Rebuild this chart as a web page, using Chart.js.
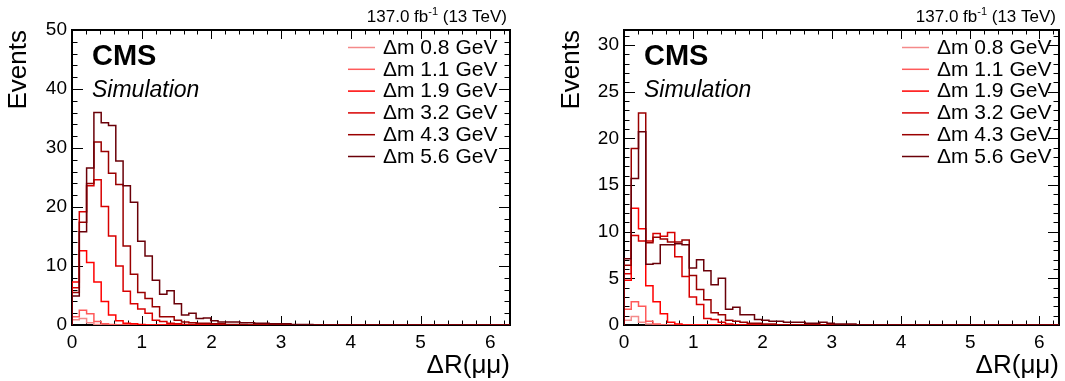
<!DOCTYPE html>
<html>
<head>
<meta charset="utf-8">
<title>Delta R of the muon pair</title>
<script src="https://cdn.jsdelivr.net/npm/chart.js@4.4.1/dist/chart.umd.min.js"></script>
<style>
  html, body { margin: 0; padding: 0; background: #fff; }
  #wrap { position: relative; width: 1065px; height: 381px; overflow: hidden; }
  .pad { position: absolute; top: 0; height: 381px; }
  #padL { left: 0; width: 532px; }
  #padR { left: 532px; width: 533px; }
</style>
</head>
<body>
<div id="wrap">
  <div class="pad" id="padL"><canvas id="chartL" width="532" height="381"></canvas></div>
  <div class="pad" id="padR"><canvas id="chartR" width="533" height="381"></canvas></div>
</div>
<script>
// 60 bins of dR between 0 and 2*pi
const NBINS = 60;
const DR_MAX = 2 * Math.PI;

const massLabels = ['\u0394m 0.8 GeV', '\u0394m 1.1 GeV', '\u0394m 1.9 GeV', '\u0394m 3.2 GeV', '\u0394m 4.3 GeV', '\u0394m 5.6 GeV'];
const massColors = ['#f48a8a', '#ff5a5a', '#ff0000', '#d80000', '#9a0000', '#6a0008'];

// left pad
const dm08Left = [0.9, 1.1, 0.4, 0.1, 0, 0, 0, 0, 0, 0,
  0, 0, 0, 0, 0, 0, 0, 0, 0, 0, 0, 0, 0, 0, 0, 0, 0, 0, 0, 0,
  0, 0, 0, 0, 0, 0, 0, 0, 0, 0, 0, 0, 0, 0, 0, 0, 0, 0, 0, 0, 0, 0, 0, 0, 0, 0, 0, 0, 0, 0];
const dm11Left = [1.4, 2.5, 1.9, 0.6, 0.2, 0.1, 0, 0, 0, 0,
  0, 0, 0, 0, 0, 0, 0, 0, 0, 0, 0, 0, 0, 0, 0, 0, 0, 0, 0, 0,
  0, 0, 0, 0, 0, 0, 0, 0, 0, 0, 0, 0, 0, 0, 0, 0, 0, 0, 0, 0, 0, 0, 0, 0, 0, 0, 0, 0, 0, 0];
const dm19Left = [7.3, 12.6, 10.6, 7.3, 4.0, 1.7, 0.7, 0.3, 0.2, 0.1,
  0, 0, 0, 0, 0, 0, 0, 0, 0, 0, 0, 0, 0, 0, 0, 0, 0, 0, 0, 0,
  0, 0, 0, 0, 0, 0, 0, 0, 0, 0, 0, 0, 0, 0, 0, 0, 0, 0, 0, 0, 0, 0, 0, 0, 0, 0, 0, 0, 0, 0];
const dm32Left = [6.3, 19.2, 23.6, 24.6, 20.1, 15.1, 10.0, 5.7, 3.6, 2.7,
  2.0, 0.8, 0.6, 0.3, 0.2, 0.1, 0.1, 0, 0, 0, 0, 0, 0, 0, 0, 0, 0, 0, 0, 0,
  0, 0, 0, 0, 0, 0, 0, 0, 0, 0, 0, 0, 0, 0, 0, 0, 0, 0, 0, 0, 0, 0, 0, 0, 0, 0, 0, 0, 0, 0];
const dm43Left = [5.5, 17.4, 24.0, 31.0, 29.4, 25.7, 23.8, 13.4, 8.6, 5.5,
  4.5, 3.1, 1.4, 1.4, 0.8, 0.5, 0.4, 0.3, 0.3, 0.2, 0.2, 0.1, 0.1, 0.1, 0, 0, 0, 0, 0, 0,
  0, 0, 0, 0, 0, 0, 0, 0, 0, 0, 0, 0, 0, 0, 0, 0, 0, 0, 0, 0, 0, 0, 0, 0, 0, 0, 0, 0, 0, 0];
const dm56Left = [4.9, 15.8, 26.6, 36.0, 34.3, 33.8, 27.8, 23.6, 20.8, 14.2,
  11.7, 7.6, 5.2, 5.8, 3.6, 1.7, 2.0, 1.1, 1.2, 0.7, 0.5, 0.5, 0.5, 0.4, 0.4, 0.3, 0.3, 0.2, 0.2, 0.2,
  0.1, 0.1, 0.1, 0, 0, 0, 0, 0, 0, 0, 0, 0, 0, 0, 0, 0, 0, 0, 0, 0, 0, 0, 0, 0, 0, 0, 0, 0, 0, 0];

// right pad
const dm08Right = [0.5, 0.9, 0.3, 0.1, 0, 0, 0, 0, 0, 0,
  0, 0, 0, 0, 0, 0, 0, 0, 0, 0, 0, 0, 0, 0, 0, 0, 0, 0, 0, 0,
  0, 0, 0, 0, 0, 0, 0, 0, 0, 0, 0, 0, 0, 0, 0, 0, 0, 0, 0, 0, 0, 0, 0, 0, 0, 0, 0, 0, 0, 0];
const dm11Right = [1.7, 2.5, 2.0, 0.4, 0.1, 0, 0, 0, 0, 0,
  0, 0, 0, 0, 0, 0, 0, 0, 0, 0, 0, 0, 0, 0, 0, 0, 0, 0, 0, 0,
  0, 0, 0, 0, 0, 0, 0, 0, 0, 0, 0, 0, 0, 0, 0, 0, 0, 0, 0, 0, 0, 0, 0, 0, 0, 0, 0, 0, 0, 0];
const dm19Right = [4.8, 12.5, 10.3, 4.2, 2.5, 1.2, 0.3, 0.1, 0, 0,
  0, 0, 0, 0, 0, 0, 0, 0, 0, 0, 0, 0, 0, 0, 0, 0, 0, 0, 0, 0,
  0, 0, 0, 0, 0, 0, 0, 0, 0, 0, 0, 0, 0, 0, 0, 0, 0, 0, 0, 0, 0, 0, 0, 0, 0, 0, 0, 0, 0, 0];
const dm32Right = [5.5, 9.6, 9.0, 9.0, 9.8, 9.5, 9.9, 7.3, 5.2, 3.0,
  2.2, 0.7, 0.6, 0.3, 0.1, 0, 0, 0, 0, 0, 0, 0, 0, 0, 0, 0, 0, 0, 0, 0,
  0, 0, 0, 0, 0, 0, 0, 0, 0, 0, 0, 0, 0, 0, 0, 0, 0, 0, 0, 0, 0, 0, 0, 0, 0, 0, 0, 0, 0, 0];
const dm43Right = [6.4, 18.9, 22.7, 8.8, 9.4, 9.2, 8.9, 8.9, 9.1, 5.3,
  3.8, 2.7, 1.3, 1.1, 0.5, 0.4, 0.3, 0.2, 0.2, 0.1, 0.1, 0, 0, 0, 0, 0, 0, 0, 0, 0,
  0, 0, 0, 0, 0, 0, 0, 0, 0, 0, 0, 0, 0, 0, 0, 0, 0, 0, 0, 0, 0, 0, 0, 0, 0, 0, 0, 0, 0, 0];
const dm56Right = [7.1, 15.7, 20.7, 6.5, 6.6, 8.6, 8.6, 8.7, 8.6, 6.1,
  7.0, 5.8, 4.3, 5.0, 1.7, 1.9, 1.1, 1.1, 0.6, 0.5, 0.4, 0.4, 0.3, 0.3, 0.3, 0.2, 0.2, 0.3, 0.2, 0.1,
  0.1, 0.1, 0, 0, 0, 0, 0, 0, 0, 0, 0, 0, 0, 0, 0, 0, 0, 0, 0, 0, 0, 0, 0, 0, 0, 0, 0, 0, 0, 0];

const FONT = '"Liberation Sans", Arial, Helvetica, sans-serif';

// turn bin contents into points for a stepped line (bin left edges + closing edge)
function histPoints(counts) {
  const w = DR_MAX / NBINS;
  const pts = [{x: 0, y: 0}];
  counts.forEach((c, i) => pts.push({x: i * w, y: c}));
  pts.push({x: NBINS * w, y: counts[counts.length - 1]});
  return pts;
}

// frame, inward ticks, CMS labels and legend
const rootStyle = {
  id: 'rootStyle',
  beforeDatasetsDraw(chart, args, o) {
    const {ctx, chartArea: a, scales: {x, y}} = chart;
    ctx.save();
    ctx.strokeStyle = '#000';
    ctx.lineWidth = 1;
    ctx.beginPath();
    for (let i = 0; i * 0.2 <= x.max + 1e-6; i++) {
      const px = Math.round(x.getPixelForValue(i * 0.2)) + 0.5;
      const len = i % 5 === 0 ? 9 : 4.5;
      ctx.moveTo(px, a.bottom); ctx.lineTo(px, a.bottom - len);
      ctx.moveTo(px, a.top); ctx.lineTo(px, a.top + len);
    }
    for (let i = 0; i * o.yMinor <= y.max + 1e-6; i++) {
      const v = i * o.yMinor;
      const py = Math.round(y.getPixelForValue(v)) + 0.5;
      const len = (Math.abs(v / o.yMajor - Math.round(v / o.yMajor)) < 1e-6) ? 11 : 5.5;
      ctx.moveTo(a.left, py); ctx.lineTo(a.left + len, py);
      ctx.moveTo(a.right, py); ctx.lineTo(a.right - len, py);
    }
    ctx.stroke();
    ctx.lineWidth = 2;
    ctx.strokeRect(a.left, a.top, a.right - a.left, a.bottom - a.top);
    ctx.restore();
  },
  afterDraw(chart, args, o) {
    const {ctx, chartArea: a} = chart;
    ctx.save();
    ctx.fillStyle = '#000';
    ctx.textBaseline = 'alphabetic';

    ctx.font = 'bold 29px ' + FONT;
    ctx.textAlign = 'left';
    ctx.fillText('CMS', a.left + 20, a.top + 35);
    ctx.font = 'italic 23px ' + FONT;
    ctx.fillText('Simulation', a.left + 20, a.top + 67);

    // 137.0 fb^-1 (13 TeV)
    const partA = '137.0 fb', sup = '-1', partB = ' (13 TeV)';
    ctx.font = '17px ' + FONT;
    const wA = ctx.measureText(partA).width, wB = ctx.measureText(partB).width;
    ctx.font = '11px ' + FONT;
    const wS = ctx.measureText(sup).width;
    let tx = a.right - 3 - (wA + wS + wB);
    ctx.font = '17px ' + FONT;
    ctx.fillText(partA, tx, 22);
    ctx.font = '11px ' + FONT;
    ctx.fillText(sup, tx + wA, 15);
    ctx.font = '17px ' + FONT;
    ctx.fillText(partB, tx + wA + wS, 22);

    // legend
    ctx.font = '21px ' + FONT;
    ctx.textBaseline = 'middle';
    chart.data.datasets.forEach((ds, i) => {
      const ly = a.top + 17 + i * 21.8;
      ctx.strokeStyle = ds.borderColor;
      ctx.lineWidth = 1.5;
      ctx.beginPath();
      ctx.moveTo(o.legendX, ly + 0.5);
      ctx.lineTo(o.legendX + 27, ly + 0.5);
      ctx.stroke();
      ctx.fillStyle = '#000';
      ctx.fillText(ds.label, o.legendX + 35, ly + 1);
    });
    ctx.restore();
  }
};

function makePad(canvasId, series, yMax, yMajor, yMinor, padLeft, axisWidth, padRight, legendX) {
  const datasets = series.map((counts, i) => ({
    label: massLabels[i],
    data: histPoints(counts),
    borderColor: massColors[i],
    borderWidth: 1.5,
    stepped: true,
    pointRadius: 0,
    fill: false,
    order: series.length - i
  }));
  return new Chart(document.getElementById(canvasId), {
    type: 'line',
    data: {datasets},
    plugins: [rootStyle],
    options: {
      responsive: false,
      animation: false,
      events: [],
      layout: {padding: {top: 30, right: padRight, left: padLeft, bottom: 0}},
      plugins: {
        legend: {display: false},
        tooltip: {enabled: false},
        rootStyle: {yMajor, yMinor, legendX}
      },
      scales: {
        x: {
          type: 'linear',
          min: 0,
          max: DR_MAX,
          grid: {display: false, drawTicks: false},
          border: {display: false},
          ticks: {stepSize: 1, includeBounds: false, autoSkip: false, maxRotation: 0,
                  padding: 6, color: '#000', font: {family: FONT, size: 19}},
          title: {display: true, text: '\u0394R(\u03bc\u03bc)', align: 'end', color: '#000',
                  padding: {top: 0, bottom: 0}, font: {family: FONT, size: 26}},
          afterFit(scale) { scale.height = 56; }
        },
        y: {
          type: 'linear',
          min: 0,
          max: yMax,
          grid: {display: false, drawTicks: false},
          border: {display: false},
          ticks: {stepSize: yMajor, includeBounds: false, padding: 5, color: '#000',
                  font: {family: FONT, size: 19}},
          title: {display: true, text: 'Events', align: 'end', color: '#000',
                  padding: {top: 3, bottom: 0}, font: {family: FONT, size: 26}},
          afterFit(scale) { scale.width = axisWidth; }
        }
      }
    }
  });
}

makePad('chartL', [dm08Left, dm11Left, dm19Left, dm32Left, dm43Left, dm56Left], 50, 10, 2, 0, 72, 22, 348);
makePad('chartR', [dm08Right, dm11Right, dm19Right, dm32Right, dm43Right, dm56Right], 31.6, 5, 1, 21, 71, 6, 370);
</script>
</body>
</html>
